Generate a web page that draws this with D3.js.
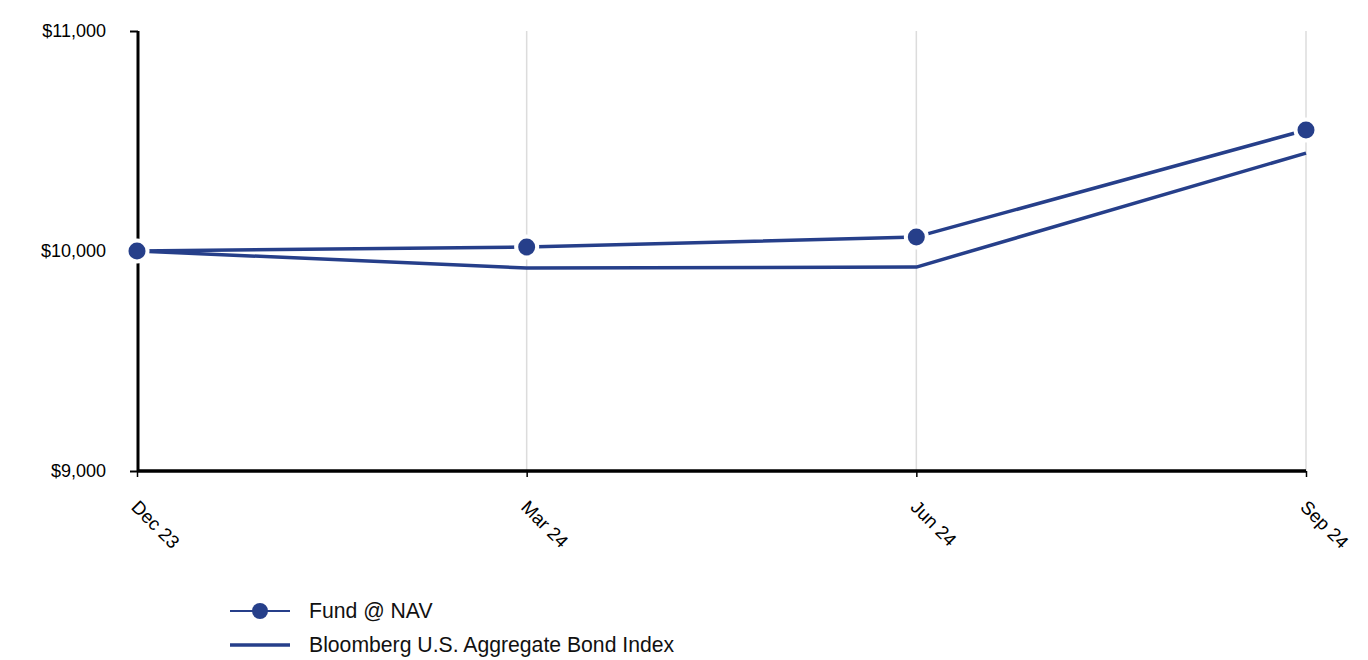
<!DOCTYPE html>
<html><head><meta charset="utf-8">
<script src="https://cdn.jsdelivr.net/npm/d3@7"></script>
<style>body{margin:0;background:#fff;font-family:"Liberation Sans",Arial,sans-serif}</style>
</head><body><svg id="c" width="1368" height="660"></svg>
<script>
const categories = ["Dec 23","Mar 24","Jun 24","Sep 24"];
const fundValues = [10000,10018,10064,10550];
const indexValues = [10000,9923,9927,10445];
const yTicks = [9000,10000,11000];
const seriesNames = ["Fund @ NAV","Bloomberg U.S. Aggregate Bond Index"];
const color = "#263f8a";
const FONT = "Liberation Sans, Arial, sans-serif";

const svg = d3.select("#c");
const x = d3.scalePoint().domain(categories).range([137,1306]);
const y = d3.scaleLinear().domain([9000,11000]).range([471,31]);

// gridlines
svg.append("g").selectAll("line").data(categories.slice(1)).join("line")
  .attr("x1",d=>x(d)).attr("x2",d=>x(d)).attr("y1",31).attr("y2",471)
  .attr("stroke","#dcdcdc").attr("stroke-width",1.5);

// y axis
const ya = svg.append("g").attr("transform","translate(138,0)")
  .call(d3.axisLeft(y).tickValues(yTicks).tickSize(8).tickPadding(24).tickFormat(d=>"$"+d3.format(",")(d)));
ya.select(".domain").attr("stroke","#000").attr("stroke-width",3).attr("d","M0,31V471");
ya.selectAll(".tick line").attr("stroke","#000").attr("stroke-width",2);
ya.selectAll(".tick text").style("font-size","18px").attr("fill","#000").style("font-family",FONT);

// x axis
const xa = svg.append("g").attr("transform","translate(0,471)")
  .call(d3.axisBottom(x).tickSize(6).tickPadding(0));
xa.select(".domain").attr("stroke","#000").attr("stroke-width",3.5).attr("d","M137,0H1306");
xa.selectAll(".tick line").attr("stroke","#000").attr("stroke-width",1.5);
xa.selectAll(".tick text").style("font-size","18.5px").attr("fill","#000")
  .style("font-family",FONT)
  .attr("text-anchor","start").attr("dy",0)
  .attr("transform","translate(-3,33) rotate(45)");

const line = d3.line().x((d,i)=>x(categories[i])).y(d=>y(d));
svg.append("path").datum(indexValues).attr("d",line).attr("fill","none")
  .attr("stroke",color).attr("stroke-width",3.5).attr("stroke-linejoin","round");
svg.append("path").datum(fundValues).attr("d",line).attr("fill","none")
  .attr("stroke",color).attr("stroke-width",3.5).attr("stroke-linejoin","round");
const mk = svg.append("g").selectAll("g").data(fundValues).join("g")
  .attr("transform",(d,i)=>`translate(${x(categories[i])},${y(d)})`);
mk.append("circle").attr("r",12.5).attr("fill","#fff");
mk.append("circle").attr("r",8.5).attr("fill",color);

// legend
const lg = svg.append("g").style("font-family",FONT).style("font-size","21.2px");
lg.append("line").attr("x1",230).attr("x2",290).attr("y1",611).attr("y2",611).attr("stroke",color).attr("stroke-width",2);
lg.append("circle").attr("cx",260).attr("cy",611).attr("r",8).attr("fill",color);
lg.append("text").attr("x",309).attr("y",611).attr("dy","0.35em").text(seriesNames[0]).attr("fill","#111");
lg.append("line").attr("x1",230).attr("x2",290).attr("y1",645).attr("y2",645).attr("stroke",color).attr("stroke-width",3.5);
lg.append("text").attr("x",309).attr("y",645).attr("dy","0.35em").text(seriesNames[1]).attr("fill","#111");
</script></body></html>
